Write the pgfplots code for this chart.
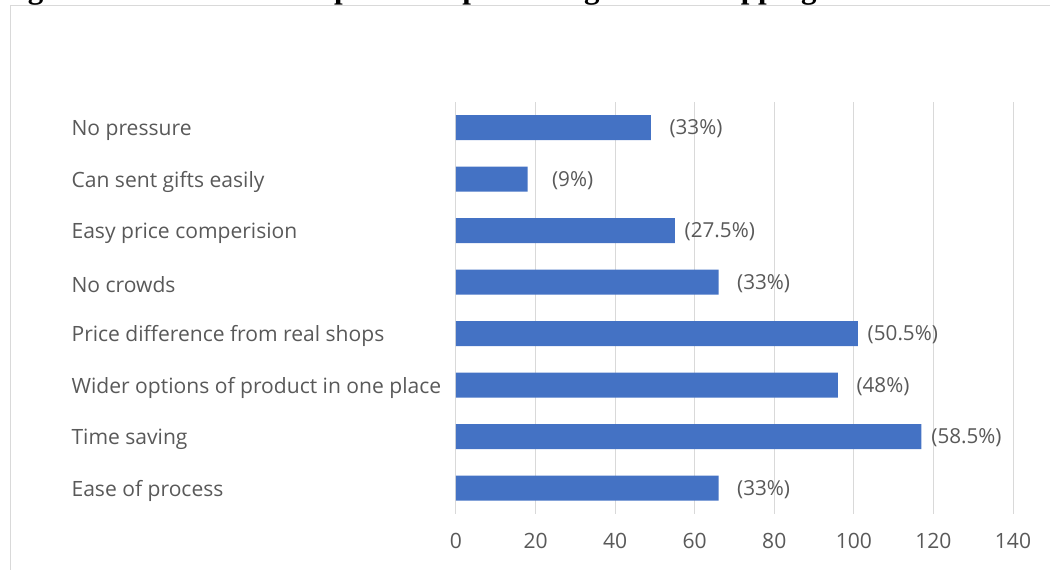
\documentclass[border=0pt]{standalone}
\usepackage{pgfplots}
\pgfplotsset{compat=1.18}
\usepackage{fontspec}
\setmainfont{Open Sans}
\newfontfamily\titlefont{Liberation Serif}
\definecolor{barblue}{HTML}{4472C4}
\definecolor{txtgray}{HTML}{595959}
\definecolor{gridgray}{HTML}{D9D9D9}
\begin{document}
\begin{tikzpicture}
\useasboundingbox (0pt,0pt) rectangle (787.5pt,427.5pt);
\clip (0pt,0pt) rectangle (787.5pt,427.5pt);
\draw[gridgray, line width=0.75pt] (7.5pt,423pt) rectangle (800pt,-10pt);
\node[anchor=base west, inner sep=0pt, font=\titlefont\bfseries\fontsize{23.25}{28}\selectfont] at (0pt,428.25pt)
  {Figure 3: Reasons for respondents preferring online shopping};
\begin{axis}[
  at={(342pt,42pt)}, anchor=south west,
  scale only axis, width=417.75pt, height=309pt,
  xbar, bar width=18.75pt,
  xmin=0, xmax=140, ymin=-0.5, ymax=7.5,
  xtick={0,20,...,140},
  ytick={0,...,7},
  yticklabels={Ease of process,Time saving,Wider options of product in one place,Price difference from real shops,No crowds,Easy price comperision,Can sent gifts easily,No pressure},
  axis line style={draw=none},
  major tick style={draw=none},
  xmajorgrids, grid style={gridgray, line width=0.75pt},
  ticklabel style={font=\fontsize{15.8}{18}\selectfont, text=txtgray},
  /pgf/number format/assume math mode=true,
  yticklabel style={anchor=west, inner sep=0pt, xshift=-284.25pt, yshift=-1.8pt},
  xticklabel style={inner sep=0pt, yshift=-14.3pt},
  point meta=explicit symbolic,
  nodes near coords,
  nodes near coords style={anchor=center, xshift=33.75pt, yshift=-0.8pt, font=\fontsize{15.5}{18}\selectfont, text=txtgray},
]
\addplot[fill=barblue, draw=none] coordinates {
  (66,0) [(33\%)]
  (117,1) [(58.5\%)]
  (96,2) [(48\%)]
  (101,3) [(50.5\%)]
  (66,4) [(33\%)]
  (55,5) [(27.5\%)]
  (18,6) [(9\%)]
  (49,7) [(33\%)]
};
\end{axis}
\end{tikzpicture}
\end{document}
